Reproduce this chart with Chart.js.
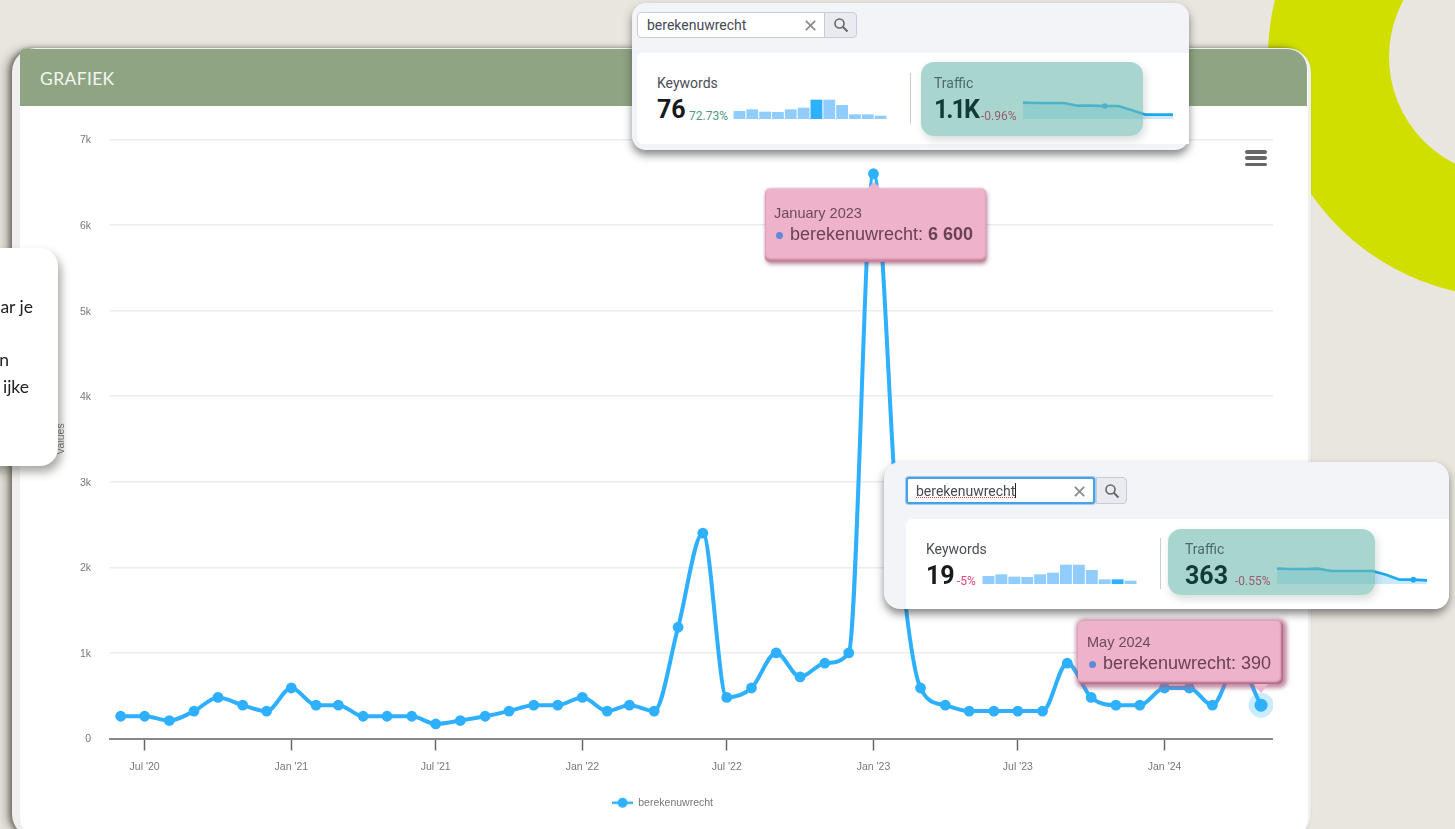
<!DOCTYPE html>
<html lang="nl"><head><meta charset="utf-8">
<script src="https://cdn.jsdelivr.net/npm/chart.js@4/dist/chart.umd.min.js"></script>
<style>
html,body{margin:0;padding:0;width:1455px;height:829px;overflow:hidden;background:#e9e6df;font-family:Roboto,"Liberation Sans",sans-serif}
.abs,canvas{position:absolute}
#ring{left:1268px;top:-183px;width:480px;height:480px;box-sizing:border-box;border-radius:50%;border:121px solid #d0df00}
#card{left:12px;top:48px;width:1299px;height:790px;background:#efefef;border-radius:24px;box-shadow:-3px 0 4px rgba(60,60,50,.55),-8px 0 8px rgba(60,60,50,.25)}
#inner{left:20px;top:49px;width:1288px;height:790px;background:#fff;border-radius:4px 22px 22px 22px}
#head{left:20px;top:49px;width:1287px;height:57px;background:#8fa483;border-radius:4px 20px 0 0;color:#f3f6f0;font:17.5px/59px Lato,sans-serif;letter-spacing:.35px;text-indent:20px}
#burger i{position:absolute;left:1245px;width:22px;height:3.6px;background:#666;border-radius:2px}
#side{left:-30px;top:248px;width:88px;height:218px;background:#fff;border-radius:18px;box-shadow:3px 6px 10px rgba(60,60,50,.45)}
.sidet{color:#222;font:17.5px/20px Lato,sans-serif;white-space:nowrap;text-align:right;width:60px;left:-27px}
.panel{background:#f3f4f8;border-radius:14px;box-shadow:0 5px 9px rgba(40,40,40,.55)}
.white{background:#fff;border-radius:6px 0 0 6px}
.search{background:#fff;border:1px solid #c9ccd6;border-radius:4px 0 0 4px;box-sizing:border-box;color:#454a55;font:14px Roboto,sans-serif}
.btn{background:#e9ebf1;border:1px solid #c9ccd6;border-radius:0 4px 4px 0;box-sizing:border-box}
.x{color:#8a8d96;font:18px "Liberation Sans",sans-serif}
.lbl{font:14px Roboto,sans-serif;color:#4a4e56;z-index:7}
.lbl.d{color:#4d6a68}
.big{font:700 25px/26px Roboto,sans-serif;color:#17191d;z-index:7}
.big.d{color:#123a38}
.pct{font:12px Roboto,sans-serif;z-index:7}
.div{width:1px;background:#c9ccd3}
.teal{background:rgba(110,187,175,.6);border-radius:13px;box-shadow:2px 4px 8px rgba(40,60,60,.18);z-index:5}
.tip{background:#eeb2ca;border-radius:5px;color:#6a4156;z-index:8}
.tip .t{position:absolute;font:14.5px "Liberation Sans",sans-serif;white-space:nowrap;color:#6d4a5c}
.tip .v{position:absolute;font:18px "Liberation Sans",sans-serif;white-space:nowrap;color:#6a4156}
.tip .d{position:absolute;width:7px;height:7px;border-radius:50%;background:#5f8ad8}
.tip .n{position:absolute;width:0;height:0;border-left:7px solid transparent;border-right:7px solid transparent}
</style></head><body>
<div id="ring" class="abs"></div>
<div id="card" class="abs"></div>
<div id="inner" class="abs"></div>
<div id="head" class="abs">GRAFIEK</div>
<canvas id="main" width="1221" height="711" style="left:52px;top:107px;width:1221px;height:711px"></canvas>
<div id="burger"><i style="top:150px"></i><i style="top:156px"></i><i style="top:162.5px"></i></div>
<div id="side" class="abs"></div>
<div class="abs sidet" style="top:297px;left:-27px">ar je</div>
<div class="abs sidet" style="top:350px;left:-51px">n</div>
<div class="abs sidet" style="top:377px;left:-31px">ijke</div>

<!-- first panel -->
<div class="abs panel" style="left:632px;top:3px;width:557px;height:147px"></div>
<div class="abs white" style="left:637px;top:53px;width:552px;height:91px"></div>
<div class="abs search" style="left:637px;top:12px;width:188px;height:26px;padding:4px 9px">berekenuwrecht</div>
<div class="abs x" style="left:803px;top:15px">✕</div>
<div class="abs btn" style="left:824px;top:12px;width:33px;height:26px"><svg width="18" height="18" viewBox="0 0 18 18" style="position:absolute;left:7px;top:3px"><circle cx="7.5" cy="7.5" r="4.5" fill="none" stroke="#666" stroke-width="1.6"/><path d="M11 11l4.5 4.5" stroke="#666" stroke-width="2"/></svg></div>
<div class="abs lbl" style="left:657px;top:75px">Keywords</div>
<div class="abs big" style="left:657px;top:97px">76</div>
<div class="abs pct" style="left:689px;top:109px;color:#4f9a83">72.73%</div>
<canvas id="barsA" width="154" height="20" style="left:733px;top:99px;width:154px;height:20px"></canvas>
<div class="abs div" style="left:910px;top:73px;height:51px"></div>
<canvas id="sparkA" width="150" height="21" style="left:1023px;top:98px;width:150px;height:21px"></canvas>
<div class="abs lbl d" style="left:934px;top:75px">Traffic</div>
<div class="abs big d" style="left:934px;top:97px;letter-spacing:-2px">1.1K</div>
<div class="abs pct" style="left:981px;top:109px;color:#9a5a70">-0.96%</div>
<div class="abs teal" style="left:921px;top:62px;width:222px;height:74px"></div>

<!-- second panel -->
<div class="abs panel" style="left:884px;top:462px;width:565px;height:147px;border-radius:16px"></div>
<div class="abs white" style="left:906px;top:519px;width:543px;height:90px;border-radius:6px 0 14px 0"></div>
<div class="abs search" style="left:906px;top:477px;width:189px;height:27px;padding:4px 8px;border:2px solid #4b9fe6;border-radius:3px;box-shadow:0 0 0 1px #9ccdf2"><span style="text-decoration:underline dotted #e0484f 1px">berekenuwrecht</span><span style="display:inline-block;width:1px;height:15px;background:#222;vertical-align:-2px"></span></div>
<div class="abs x" style="left:1072px;top:481px">✕</div>
<div class="abs btn" style="left:1096px;top:477px;width:31px;height:27px"><svg width="18" height="18" viewBox="0 0 18 18" style="position:absolute;left:6px;top:4px"><circle cx="7.5" cy="7.5" r="4.5" fill="none" stroke="#666" stroke-width="1.6"/><path d="M11 11l4.5 4.5" stroke="#666" stroke-width="2"/></svg></div>
<div class="abs lbl" style="left:926px;top:541px">Keywords</div>
<div class="abs big" style="left:926px;top:563px">19</div>
<div class="abs pct" style="left:957px;top:574px;color:#e0457b">-5%</div>
<canvas id="barsB" width="155" height="20" style="left:982px;top:564px;width:155px;height:20px"></canvas>
<div class="abs div" style="left:1160px;top:538px;height:51px"></div>
<canvas id="sparkB" width="150" height="21" style="left:1277px;top:563px;width:150px;height:21px"></canvas>
<div class="abs lbl d" style="left:1185px;top:541px">Traffic</div>
<div class="abs big d" style="left:1185px;top:563px">363</div>
<div class="abs pct" style="left:1235px;top:574px;color:#9a5a70">-0.55%</div>
<div class="abs teal" style="left:1168px;top:529px;width:207px;height:66px"></div>

<!-- tooltips -->
<div class="abs tip" style="left:765px;top:189px;width:221px;height:73px;box-shadow:inset 0 -3px 2px rgba(150,70,100,.45),1px 2px 4px rgba(110,40,70,.55),0 -1px 2px rgba(180,90,120,.35)">
  <div class="n" style="left:102px;top:-7px;border-bottom:7px solid #eeb2ca"></div>
  <div class="t" style="left:9px;top:16px">January 2023</div>
  <div class="d" style="left:11px;top:43px"></div>
  <div class="v" style="left:25px;top:35px">berekenuwrecht: <b>6 600</b></div>
</div>
<div class="abs tip" style="left:1078px;top:621px;width:205px;height:63px;box-shadow:inset -2px -2px 2px rgba(120,50,80,.55),1px 1px 4px 3px rgba(170,90,120,.7)">
  <div class="n" style="left:176px;top:63px;border-top:9px solid #eeb2ca"></div>
  <div class="t" style="left:9px;top:13px">May 2024</div>
  <div class="d" style="left:11px;top:40px"></div>
  <div class="v" style="left:25px;top:32px">berekenuwrecht: 390</div>
</div>

<script>
const months = ["2020-06","2020-07","2020-08","2020-09","2020-10","2020-11","2020-12",
 "2021-01","2021-02","2021-03","2021-04","2021-05","2021-06","2021-07","2021-08","2021-09","2021-10","2021-11","2021-12",
 "2022-01","2022-02","2022-03","2022-04","2022-05","2022-06","2022-07","2022-08","2022-09","2022-10","2022-11","2022-12",
 "2023-01","2023-02","2023-03","2023-04","2023-05","2023-06","2023-07","2023-08","2023-09","2023-10","2023-11","2023-12",
 "2024-01","2024-02","2024-03","2024-04","2024-05"];
const values = [260,260,210,320,480,390,320,
 590,390,390,260,260,260,170,210,260,320,390,390,
 480,320,390,320,1300,2400,480,590,1000,720,880,1000,
 6600,2400,590,390,320,320,320,320,880,480,390,390,
 590,590,390,880,390];
const tickMonths = ["2020-07","2021-01","2021-07","2022-01","2022-07","2023-01","2023-07","2024-01"];
const tickLabels = ["Jul '20","Jan '21","Jul '21","Jan '22","Jul '22","Jan '23","Jul '23","Jan '24"];
const yTicks = [0,1000,2000,3000,4000,5000,6000,7000];
const seriesName = "berekenuwrecht";

const keywordBarsA = [24,29,22,21,29,34,58,58,42,14,14,10];
const keywordBarsB = [24,29,22,21,29,34,58,58,42,14,14,10];
const trafficA = [49,48,48,48,40,40,39,39,26,13,13,13];
const trafficB = [46,45,45,46,39,39,39,39,28,13,13,11];
const sparkLabels = ["1","2","3","4","5","6","7","8","9","10","11","12"];

const BLUE = "#2eb0ff";
const dayOf = m => { const [y,mo] = m.split("-").map(Number); return Date.UTC(y,mo-1,1)/864e5; };
const pts = months.map((m,i)=>({x:dayOf(m),y:values[i]}));
const lastIdx = months.length-1;

// legend marker: a line with a dot
const mk = document.createElement("canvas"); mk.width=21; mk.height=12;
{const c=mk.getContext("2d");c.strokeStyle=BLUE;c.lineWidth=2.5;c.beginPath();c.moveTo(0,6);c.lineTo(21,6);c.stroke();c.fillStyle=BLUE;c.beginPath();c.arc(10.5,6,5,0,7);c.fill();}

const FONT = {family:'"Liberation Sans",Arial,sans-serif',size:10.5};
new Chart(document.getElementById("main"),{
  type:"line",
  data:{datasets:[{label:seriesName,data:pts,borderColor:BLUE,backgroundColor:BLUE,borderWidth:4,
    cubicInterpolationMode:"monotone",
    pointRadius:c=>c.dataIndex===lastIdx?6.5:5.4,
    pointBackgroundColor:BLUE,
    pointBorderColor:c=>c.dataIndex===lastIdx?"rgba(46,176,255,.25)":BLUE,
    pointBorderWidth:c=>c.dataIndex===lastIdx?12:0,
    clip:false}]},
  options:{responsive:false,animation:false,events:[],
    layout:{autoPadding:false,padding:{top:32.5,left:0,right:0,bottom:0}},
    plugins:{tooltip:{enabled:false},
      legend:{position:"bottom",labels:{usePointStyle:true,pointStyle:mk,pointStyleWidth:21,font:FONT,color:"#777",padding:10}}},
    scales:{
      x:{type:"linear",min:dayOf(months[0])-13.4,max:dayOf(months[lastIdx])+15,
        afterBuildTicks:s=>{s.ticks=tickMonths.map(m=>({value:dayOf(m)}));},
        afterFit:s=>{s.height=49;},
        grid:{drawOnChartArea:false,drawTicks:true,tickLength:12,tickColor:"#666",tickWidth:1.5},
        border:{color:"#888",width:2},
        ticks:{autoSkip:false,maxRotation:0,padding:10,font:FONT,color:"#777",
          callback:v=>tickLabels[tickMonths.findIndex(m=>dayOf(m)===v)]}},
      y:{min:0,max:7000,
        afterBuildTicks:s=>{s.ticks=yTicks.map(v=>({value:v}));},
        afterFit:s=>{s.width=58;},
        grid:{color:"#ececec",lineWidth:1.5,drawTicks:false},
        border:{display:false},
        title:{display:true,text:"Values",font:FONT,color:"#777",padding:{top:3,bottom:0}},
        ticks:{padding:19,labelOffset:1,font:FONT,color:"#777",callback:v=>v?(v/1000)+"k":"0"}}
    }}
});

function bars(id,vals,hi){
  new Chart(document.getElementById(id),{type:"bar",
    data:{labels:sparkLabels,datasets:[{data:vals,barPercentage:.92,categoryPercentage:1,
      backgroundColor:vals.map((_,i)=>i===hi?"#2db1ff":"#90ccfd")}]},
    options:{responsive:false,animation:false,events:[],plugins:{legend:{display:false},tooltip:{enabled:false}},
      scales:{x:{display:false},y:{display:false,min:0,max:60}}}});
}
function spark(id,vals,hi){
  new Chart(document.getElementById(id),{type:"line",
    data:{labels:sparkLabels,datasets:[{data:vals,borderColor:"#1fa8ee",borderWidth:2.6,tension:0,clip:false,
      fill:true,backgroundColor:"rgba(120,200,250,.4)",
      pointRadius:vals.map((_,i)=>i===hi?2.8:0),pointBackgroundColor:"#1fa8ee",pointBorderWidth:0}]},
    options:{responsive:false,animation:false,events:[],plugins:{legend:{display:false},tooltip:{enabled:false}},
      scales:{x:{display:false},y:{display:false,min:0,max:63}}}});
}
bars("barsA",keywordBarsA,6);
bars("barsB",keywordBarsB,10);
spark("sparkA",trafficA,6);
spark("sparkB",trafficB,10);
</script>
</body></html>
